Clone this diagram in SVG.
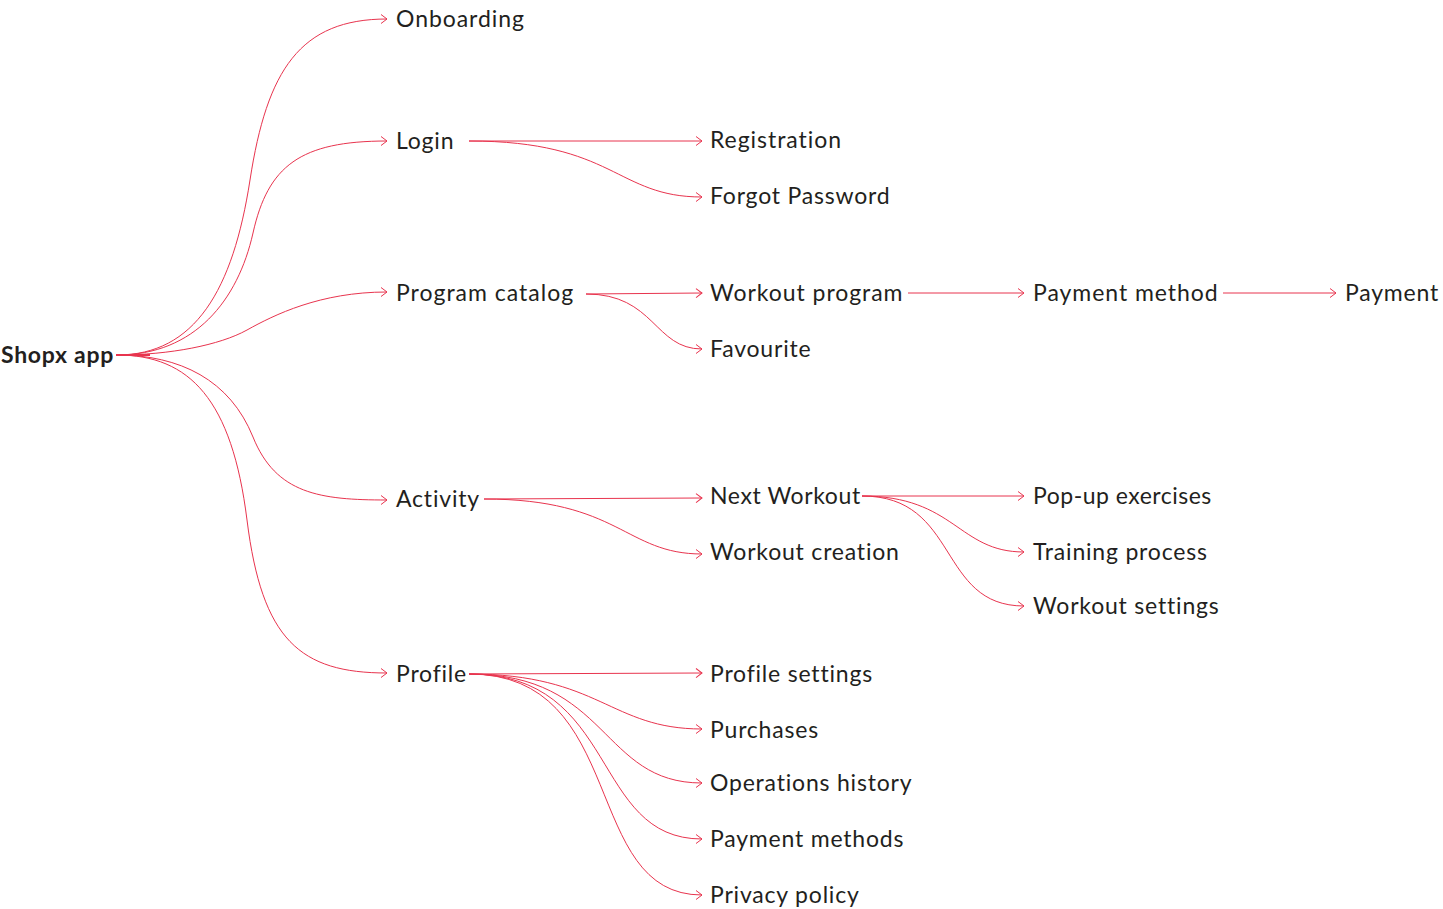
<svg xmlns="http://www.w3.org/2000/svg" width="1443" height="909" viewBox="0 0 1443 909">
<defs>
<marker id="ah" markerUnits="userSpaceOnUse" markerWidth="12" markerHeight="12" refX="0" refY="0" viewBox="-8 -6 10 12" orient="auto" overflow="visible">
<path d="M-6,-4.5 L0,0 L-6,4.5" fill="none" stroke="#e8344e" stroke-width="1"/>
</marker>
<style>
text{font-family:"Lato","Liberation Sans",sans-serif;font-size:23px;fill:#231f20;letter-spacing:0.8px}
.root{font-weight:bold;letter-spacing:0.7px}
.c path{fill:none;stroke:#e8344e;stroke-width:1}
.c path.a{marker-end:url(#ah)}
</style>
</defs>
<rect width="1443" height="909" fill="#fff"/>
<g class="c" id="connectors">
<path d="M116,355 L150,355" style="stroke-width:2"/>
<path class="a" d="M117,355 C195,355 233,290 250,180 S 300,19 387,19"/>
<path class="a" d="M117,355 C195,355 238,300 253,233 S 300,141 387,141"/>
<path class="a" d="M117,355 C170,355 220,345 247,330 S 320,292 387,292"/>
<path class="a" d="M117,355 C180,355 230,380 253,437 S 320,500 387,500"/>
<path class="a" d="M117,355 C190,355 232,400 247,520 S 300,673 387,673"/>
<path class="a" d="M469,141 L702,141"/>
<path class="a" d="M469,141 C615,141 616,197 702,197"/>
<path class="a" d="M586,294 L702,293"/>
<path class="a" d="M586,294 C655,294 654,349 702,349"/>
<path class="a" d="M908,293 L1024,293"/>
<path class="a" d="M1223,293 L1336,293"/>
<path class="a" d="M484,499 L702,498"/>
<path class="a" d="M484,499 C620,499 625,554 702,554"/>
<path class="a" d="M862,496 L1024,496"/>
<path class="a" d="M862,496 C955,496 958,552 1024,552"/>
<path class="a" d="M862,496 C960,496 937,606 1024,606"/>
<path class="a" d="M469,674 L702,673"/>
<path class="a" d="M469,674 C600,674 610,729 702,729"/>
<path class="a" d="M469,674 C610,674 600,783 702,783"/>
<path class="a" d="M469,674 C620,674 590,839 702,839"/>
<path class="a" d="M469,674 C630,674 580,895 702,895"/>
</g>
<g id="n-root"><text class="root" x="1" y="363">Shopx app</text></g>
<g id="n-onboarding"><text x="396" y="27" style="letter-spacing:0.95px">Onboarding</text></g>
<g id="n-login"><text x="396" y="149">Login</text></g>
<g id="n-catalog"><text x="396" y="301" style="letter-spacing:1px">Program catalog</text></g>
<g id="n-activity"><text x="396" y="507">Activity</text></g>
<g id="n-profile"><text x="396" y="682">Profile</text></g>
<g id="n-registration"><text x="710" y="148" style="letter-spacing:0.95px">Registration</text></g>
<g id="n-forgot"><text x="710" y="204">Forgot Password</text></g>
<g id="n-workoutprogram"><text x="710" y="301" style="letter-spacing:0.95px">Workout program</text></g>
<g id="n-favourite"><text x="710" y="357">Favourite</text></g>
<g id="n-paymentmethod"><text x="1033" y="301" style="letter-spacing:0.95px">Payment method</text></g>
<g id="n-payment"><text x="1345" y="301">Payment</text></g>
<g id="n-nextworkout"><text x="710" y="504" style="letter-spacing:0.6px">Next Workout</text></g>
<g id="n-workoutcreation"><text x="710" y="560">Workout creation</text></g>
<g id="n-popup"><text x="1033" y="504" style="letter-spacing:0.5px">Pop-up exercises</text></g>
<g id="n-training"><text x="1033" y="560">Training process</text></g>
<g id="n-workoutsettings"><text x="1033" y="614">Workout settings</text></g>
<g id="n-profilesettings"><text x="710" y="682">Profile settings</text></g>
<g id="n-purchases"><text x="710" y="738">Purchases</text></g>
<g id="n-operations"><text x="710" y="791">Operations history</text></g>
<g id="n-paymentmethods"><text x="710" y="847">Payment methods</text></g>
<g id="n-privacy"><text x="710" y="903">Privacy policy</text></g>
</svg>
